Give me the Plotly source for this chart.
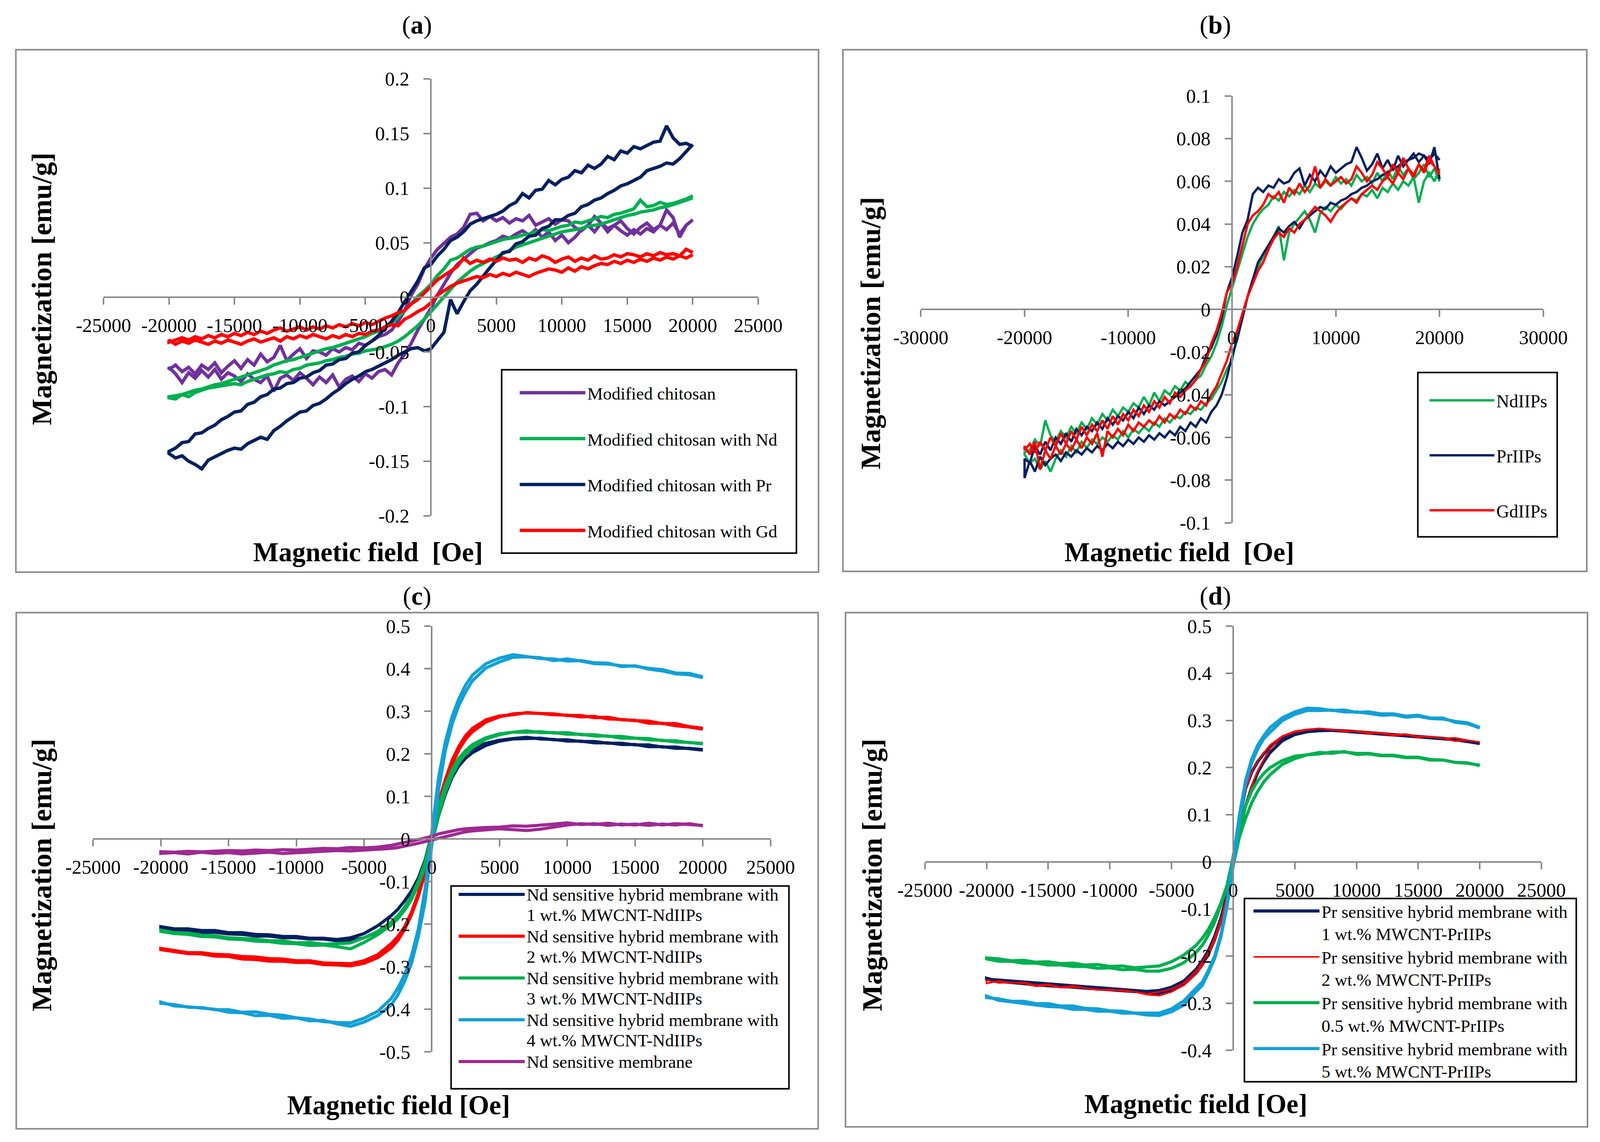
"""Magnetization loops of chitosan sorbents, IIPs and hybrid membranes (4 panels)."""

import plotly.graph_objects as go

W, H = 4255, 2924          # reference canvas, used to turn pixel positions into paper fractions
FONT = "Liberation Serif"
GREY = "#8a8a8a"

PURPLE = "#7030A0"
GREEN = "#00B050"
NAVY = "#002060"
RED = "#FF0000"
BLUE = "#12A0D7"
MAGENTA = "#9E2A92"

# field sweeps (Oe), written from +20000 down to -20000
FIELD_FINE = [
    20000, 19500, 19000, 18500, 18000, 17500, 17000, 16500, 16000, 15500,
    15000, 14500, 14000, 13500, 13000, 12500, 12000, 11500, 11000, 10500,
    10000, 9500, 9000, 8500, 8000, 7500, 7000, 6500, 6000, 5500,
    5000, 4500, 4000, 3500, 3000, 2500, 2000, 1500, 1000, 500,
    0, -500, -1000, -1500, -2000, -2500, -3000, -3500, -4000, -4500,
    -5000, -5500, -6000, -6500, -7000, -7500, -8000, -8500, -9000, -9500,
    -10000, -10500, -11000, -11500, -12000, -12500, -13000, -13500, -14000, -14500,
    -15000, -15500, -16000, -16500, -17000, -17500, -18000, -18500, -19000, -19500,
    -20000,
]
FIELD_COARSE = [
    20000, 19000, 18000, 17000, 16000, 15000, 14000, 13000, 12000, 11000,
    10000, 9000, 8000, 7000, 6000, 5000, 4000, 3000,
    2500, 2000, 1500, 1000, 500, 0, -500, -1000, -1500, -2000, -2500,
    -3000, -4000, -5000, -6000, -7000, -8000, -9000, -10000,
    -11000, -12000, -13000, -14000, -15000, -16000, -17000, -18000, -19000, -20000,
]

# ---- (a) modified chitosan, emu/g; *_DOWN follows FIELD_FINE, *_UP runs -20000 -> +20000
A_CHIT_DOWN = [
    0.071, 0.066, 0.055, 0.073, 0.080, 0.066, 0.062, 0.068, 0.064, 0.058,
    0.063, 0.070, 0.066, 0.060, 0.068, 0.074, 0.066, 0.061, 0.064, 0.070,
    0.071, 0.067, 0.072, 0.069, 0.066, 0.075, 0.070, 0.072, 0.068, 0.073,
    0.070, 0.074, 0.070, 0.077, 0.076, 0.064, 0.058, 0.055, 0.049, 0.044,
    0.036, 0.026, 0.012, 0.002, -0.012, -0.022, -0.030, -0.034, -0.036, -0.040,
    -0.044, -0.042, -0.048, -0.046, -0.050, -0.047, -0.053, -0.050, -0.049, -0.056,
    -0.047, -0.052, -0.058, -0.044, -0.055, -0.059, -0.052, -0.062, -0.057, -0.065,
    -0.058, -0.063, -0.069, -0.060, -0.066, -0.062, -0.070, -0.064, -0.068, -0.062,
    -0.066,
]
A_CHIT_UP = [
    -0.064, -0.070, -0.078, -0.069, -0.074, -0.067, -0.073, -0.066, -0.075, -0.069,
    -0.072, -0.077, -0.070, -0.075, -0.078, -0.072, -0.086, -0.074, -0.071, -0.076,
    -0.069, -0.074, -0.080, -0.073, -0.078, -0.071, -0.082, -0.075, -0.072, -0.077,
    -0.070, -0.074, -0.068, -0.066, -0.071, -0.060, -0.052, -0.042, -0.030, -0.020,
    -0.010, 0.002, 0.012, 0.022, 0.030, 0.035, 0.040, 0.045, 0.047, 0.050,
    0.052, 0.056, 0.054, 0.058, 0.061, 0.057, 0.062, 0.055, 0.060, 0.052,
    0.057, 0.050, 0.055, 0.062, 0.066, 0.060, 0.068, 0.063, 0.066, 0.061,
    0.057, 0.062, 0.058, 0.063, 0.060, 0.066, 0.062, 0.068, 0.058, 0.066,
    0.071,
]
A_ND_DOWN = [
    0.093, 0.090, 0.088, 0.086, 0.085, 0.087, 0.084, 0.083, 0.089, 0.081,
    0.079, 0.077, 0.076, 0.073, 0.074, 0.072, 0.070, 0.068, 0.069, 0.066,
    0.065, 0.063, 0.061, 0.062, 0.060, 0.058, 0.057, 0.055, 0.054, 0.053,
    0.051, 0.049, 0.047, 0.046, 0.044, 0.040, 0.036, 0.034, 0.026, 0.020,
    0.012, 0.006, 0.001, -0.006, -0.012, -0.019, -0.024, -0.028, -0.031, -0.033,
    -0.036, -0.038, -0.040, -0.042, -0.044, -0.046, -0.047, -0.049, -0.051, -0.053,
    -0.055, -0.057, -0.058, -0.060, -0.062, -0.065, -0.067, -0.069, -0.071, -0.073,
    -0.075, -0.077, -0.079, -0.080, -0.082, -0.084, -0.085, -0.087, -0.089, -0.090,
    -0.091,
]
A_ND_UP = [
    -0.092, -0.093, -0.089, -0.091, -0.087, -0.085, -0.083, -0.082, -0.081, -0.080,
    -0.079, -0.080, -0.077, -0.075, -0.073, -0.071, -0.070, -0.068, -0.069, -0.066,
    -0.065, -0.062, -0.061, -0.060, -0.058, -0.057, -0.055, -0.054, -0.052, -0.051,
    -0.049, -0.048, -0.047, -0.045, -0.043, -0.040, -0.036, -0.031, -0.026, -0.020,
    -0.013, -0.006, 0.000, 0.008, 0.014, 0.019, 0.024, 0.028, 0.031, 0.034,
    0.037, 0.040, 0.043, 0.046, 0.048, 0.050, 0.052, 0.054, 0.056, 0.058,
    0.060, 0.061, 0.062, 0.063, 0.065, 0.066, 0.067, 0.069, 0.071, 0.073,
    0.075, 0.076, 0.078, 0.079, 0.080, 0.082, 0.083, 0.085, 0.087, 0.089,
    0.091,
]
A_PR_DOWN = [
    0.138, 0.141, 0.140, 0.146, 0.157, 0.143, 0.142, 0.139, 0.136, 0.138,
    0.132, 0.134, 0.126, 0.129, 0.122, 0.118, 0.121, 0.114, 0.116, 0.110,
    0.108, 0.103, 0.107, 0.099, 0.098, 0.091, 0.095, 0.087, 0.084, 0.079,
    0.076, 0.074, 0.072, 0.070, 0.067, 0.060, 0.055, 0.052, 0.044, 0.038,
    0.030, 0.027, 0.015, 0.006, -0.004, -0.014, -0.022, -0.028, -0.035, -0.040,
    -0.044, -0.050, -0.051, -0.056, -0.057, -0.061, -0.062, -0.067, -0.069, -0.073,
    -0.074, -0.078, -0.079, -0.083, -0.084, -0.089, -0.091, -0.096, -0.098, -0.104,
    -0.105, -0.109, -0.112, -0.117, -0.120, -0.124, -0.125, -0.132, -0.133, -0.138,
    -0.141,
]
A_PR_UP = [
    -0.143, -0.147, -0.145, -0.150, -0.153, -0.157, -0.149, -0.146, -0.143, -0.140,
    -0.138, -0.139, -0.134, -0.131, -0.128, -0.130, -0.122, -0.118, -0.113, -0.109,
    -0.105, -0.104, -0.099, -0.097, -0.093, -0.088, -0.084, -0.079, -0.075, -0.072,
    -0.068, -0.066, -0.063, -0.060, -0.057, -0.053, -0.050, -0.047, -0.046, -0.049,
    -0.047, -0.040, -0.032, -0.002, -0.015, -0.004, 0.006, 0.012, 0.020, 0.027,
    0.034, 0.041, 0.042, 0.049, 0.051, 0.056, 0.057, 0.063, 0.065, 0.071,
    0.071, 0.075, 0.077, 0.083, 0.085, 0.089, 0.091, 0.095, 0.098, 0.102,
    0.104, 0.107, 0.110, 0.116, 0.118, 0.120, 0.123, 0.122, 0.127, 0.134,
    0.140,
]
A_GD_DOWN = [
    0.041, 0.044, 0.038, 0.040, 0.039, 0.041, 0.038, 0.040, 0.037, 0.039,
    0.040, 0.037, 0.039, 0.036, 0.035, 0.038, 0.034, 0.036, 0.033, 0.037,
    0.035, 0.032, 0.036, 0.038, 0.034, 0.036, 0.032, 0.035, 0.034, 0.036,
    0.033, 0.035, 0.032, 0.034, 0.031, 0.036, 0.028, 0.024, 0.020, 0.016,
    0.010, 0.004, -0.002, -0.006, -0.012, -0.014, -0.017, -0.019, -0.022, -0.025,
    -0.023, -0.026, -0.024, -0.027, -0.025, -0.028, -0.026, -0.029, -0.027, -0.030,
    -0.027, -0.029, -0.031, -0.028, -0.030, -0.033, -0.031, -0.034, -0.032, -0.035,
    -0.033, -0.036, -0.034, -0.037, -0.035, -0.038, -0.036, -0.039, -0.037, -0.039,
    -0.041,
]
A_GD_UP = [
    -0.039, -0.043, -0.040, -0.042, -0.039, -0.041, -0.043, -0.040, -0.042, -0.039,
    -0.041, -0.043, -0.040, -0.038, -0.041, -0.039, -0.037, -0.040, -0.036, -0.038,
    -0.035, -0.037, -0.034, -0.036, -0.038, -0.035, -0.037, -0.034, -0.036, -0.033,
    -0.034, -0.031, -0.030, -0.027, -0.025, -0.026, -0.020, -0.017, -0.013, -0.010,
    -0.005, 0.002, 0.006, 0.010, 0.013, 0.015, 0.017, 0.019, 0.018, 0.021,
    0.019, 0.022, 0.020, 0.023, 0.021, 0.019, 0.022, 0.024, 0.026, 0.025,
    0.023, 0.027, 0.024, 0.028, 0.026, 0.029, 0.031, 0.030, 0.033, 0.031,
    0.034, 0.032, 0.035, 0.033, 0.036, 0.034, 0.037, 0.035, 0.038, 0.036,
    0.039,
]

# ---- (b) ion imprinted polymers
B_ND_DOWN = [
    0.060, 0.066, 0.062, 0.068, 0.064, 0.061, 0.066, 0.063, 0.067, 0.061,
    0.065, 0.060, 0.064, 0.059, 0.062, 0.060, 0.063, 0.058, 0.061, 0.059,
    0.062, 0.058, 0.060, 0.057, 0.059, 0.055, 0.058, 0.054, 0.056, 0.053,
    0.055, 0.051, 0.053, 0.049, 0.047, 0.044, 0.040, 0.034, 0.026, 0.018,
    0.010, 0.002, -0.008, -0.016, -0.022, -0.026, -0.031, -0.033, -0.036, -0.034,
    -0.038, -0.036, -0.040, -0.038, -0.043, -0.039, -0.045, -0.041, -0.046, -0.044,
    -0.048, -0.046, -0.050, -0.047, -0.052, -0.049, -0.054, -0.051, -0.056, -0.053,
    -0.058, -0.055, -0.060, -0.057, -0.062, -0.059, -0.052, -0.064, -0.061, -0.066,
    -0.067,
]
B_ND_UP = [
    -0.068, -0.072, -0.070, -0.075, -0.071, -0.076, -0.070, -0.066, -0.069, -0.064,
    -0.067, -0.062, -0.065, -0.061, -0.063, -0.060, -0.062, -0.059, -0.061, -0.057,
    -0.060, -0.056, -0.058, -0.055, -0.057, -0.053, -0.055, -0.051, -0.053, -0.050,
    -0.051, -0.048, -0.049, -0.046, -0.047, -0.044, -0.042, -0.038, -0.034, -0.028,
    -0.024, -0.012, -0.004, 0.006, 0.014, 0.020, 0.025, 0.028, 0.034, 0.039,
    0.023, 0.036, 0.040, 0.043, 0.046, 0.042, 0.036, 0.045, 0.048, 0.046,
    0.049, 0.047, 0.050, 0.052, 0.051, 0.054, 0.053, 0.056, 0.052, 0.057,
    0.055, 0.059, 0.056, 0.060, 0.058, 0.062, 0.050, 0.060, 0.064, 0.060,
    0.066,
]
B_PR_DOWN = [
    0.061, 0.076, 0.068, 0.072, 0.069, 0.073, 0.070, 0.067, 0.072, 0.065,
    0.070, 0.066, 0.073, 0.068, 0.065, 0.071, 0.076, 0.069, 0.068, 0.066,
    0.064, 0.067, 0.062, 0.065, 0.060, 0.063, 0.058, 0.066, 0.064, 0.060,
    0.059, 0.061, 0.057, 0.058, 0.055, 0.057, 0.054, 0.042, 0.036, 0.025,
    0.015, 0.008, -0.004, -0.012, -0.018, -0.022, -0.028, -0.031, -0.034, -0.037,
    -0.039, -0.041, -0.043, -0.045, -0.043, -0.047, -0.045, -0.049, -0.046, -0.051,
    -0.048, -0.052, -0.050, -0.054, -0.051, -0.056, -0.053, -0.057, -0.055, -0.059,
    -0.056, -0.062, -0.058, -0.063, -0.060, -0.066, -0.062, -0.068, -0.064, -0.072,
    -0.070,
]
B_PR_UP = [
    -0.079, -0.071, -0.076, -0.069, -0.073, -0.070, -0.068, -0.071, -0.067, -0.069,
    -0.066, -0.068, -0.065, -0.067, -0.064, -0.066, -0.063, -0.065, -0.062, -0.064,
    -0.061, -0.063, -0.060, -0.062, -0.059, -0.061, -0.058, -0.060, -0.057, -0.059,
    -0.055, -0.057, -0.053, -0.055, -0.051, -0.053, -0.048, -0.045, -0.040, -0.032,
    -0.022, -0.014, -0.004, 0.006, 0.014, 0.022, 0.026, 0.030, 0.034, 0.038,
    0.036, 0.039, 0.041, 0.038, 0.042, 0.044, 0.046, 0.048, 0.047, 0.050,
    0.049, 0.051, 0.052, 0.054, 0.055, 0.057, 0.058, 0.060, 0.061, 0.063,
    0.064, 0.066, 0.067, 0.069, 0.070, 0.071, 0.073, 0.072, 0.070, 0.073,
    0.070,
]
B_GD_DOWN = [
    0.063, 0.067, 0.070, 0.064, 0.068, 0.062, 0.066, 0.071, 0.064, 0.068,
    0.062, 0.066, 0.069, 0.063, 0.060, 0.064, 0.067, 0.061, 0.059, 0.062,
    0.060, 0.058, 0.061, 0.057, 0.067, 0.058, 0.055, 0.059, 0.054, 0.057,
    0.050, 0.055, 0.052, 0.054, 0.049, 0.046, 0.044, 0.040, 0.030, 0.020,
    0.012, 0.008, -0.002, -0.010, -0.016, -0.024, -0.028, -0.033, -0.036, -0.038,
    -0.041, -0.039, -0.044, -0.041, -0.046, -0.043, -0.048, -0.045, -0.050, -0.047,
    -0.052, -0.049, -0.054, -0.050, -0.056, -0.052, -0.057, -0.054, -0.059, -0.055,
    -0.061, -0.057, -0.063, -0.058, -0.064, -0.060, -0.066, -0.062, -0.067, -0.063,
    -0.066,
]
B_GD_UP = [
    -0.064, -0.068, -0.062, -0.075, -0.066, -0.070, -0.064, -0.068, -0.063, -0.066,
    -0.061, -0.065, -0.060, -0.063, -0.058, -0.069, -0.057, -0.060, -0.056, -0.059,
    -0.054, -0.057, -0.053, -0.055, -0.052, -0.054, -0.050, -0.053, -0.049, -0.051,
    -0.047, -0.049, -0.045, -0.047, -0.043, -0.045, -0.040, -0.036, -0.030, -0.024,
    -0.016, -0.010, -0.002, 0.006, 0.012, 0.018, 0.022, 0.028, 0.033, 0.036,
    0.034, 0.038, 0.036, 0.040, 0.042, 0.045, 0.048, 0.046, 0.044, 0.041,
    0.045, 0.048, 0.050, 0.052, 0.050, 0.054, 0.056, 0.058, 0.056, 0.060,
    0.062, 0.059, 0.064, 0.061, 0.066, 0.063, 0.068, 0.065, 0.072, 0.067,
    0.064,
]

# ---- (c) Nd sensitive membranes; *_DOWN follows FIELD_COARSE
C_1WT_DOWN = [
    0.210, 0.213, 0.213, 0.217, 0.217, 0.222, 0.222, 0.226, 0.226, 0.230,
    0.230, 0.234, 0.235, 0.239, 0.236, 0.232, 0.225, 0.212,
    0.201, 0.185, 0.160, 0.123, 0.075, 0.010, -0.050, -0.092, -0.122, -0.145, -0.165,
    -0.180, -0.204, -0.222, -0.232, -0.236, -0.233, -0.233, -0.229,
    -0.229, -0.225, -0.224, -0.220, -0.220, -0.215, -0.215, -0.211, -0.211, -0.206,
]
C_1WT_UP = [
    -0.208, -0.213, -0.214, -0.219, -0.219, -0.223, -0.224, -0.228, -0.228, -0.232,
    -0.232, -0.235, -0.235, -0.239, -0.238, -0.232, -0.218, -0.196,
    -0.180, -0.160, -0.135, -0.102, -0.060, -0.010, 0.055, 0.105, 0.145, 0.172, 0.190,
    0.203, 0.220, 0.230, 0.235, 0.236, 0.237, 0.233, 0.233,
    0.229, 0.229, 0.225, 0.225, 0.221, 0.221, 0.216, 0.216, 0.212, 0.209,
]
C_2WT_DOWN = [
    0.258, 0.263, 0.266, 0.272, 0.272, 0.279, 0.280, 0.286, 0.285, 0.290,
    0.290, 0.294, 0.295, 0.297, 0.292, 0.289, 0.280, 0.260,
    0.243, 0.218, 0.185, 0.140, 0.085, 0.010, -0.068, -0.128, -0.172, -0.206, -0.229,
    -0.246, -0.272, -0.286, -0.293, -0.292, -0.291, -0.286, -0.286,
    -0.282, -0.281, -0.277, -0.276, -0.272, -0.271, -0.267, -0.267, -0.262, -0.257,
]
C_2WT_UP = [
    -0.260, -0.265, -0.269, -0.270, -0.275, -0.276, -0.282, -0.283, -0.287, -0.287,
    -0.290, -0.290, -0.295, -0.296, -0.298, -0.292, -0.279, -0.256,
    -0.238, -0.212, -0.178, -0.135, -0.080, -0.010, 0.068, 0.128, 0.175, 0.210, 0.235,
    0.252, 0.275, 0.287, 0.294, 0.296, 0.295, 0.292, 0.291,
    0.287, 0.288, 0.282, 0.281, 0.278, 0.277, 0.271, 0.271, 0.264, 0.260,
]
C_3WT_DOWN = [
    0.223, 0.227, 0.228, 0.232, 0.233, 0.237, 0.237, 0.242, 0.242, 0.246,
    0.246, 0.250, 0.250, 0.254, 0.251, 0.247, 0.238, 0.222,
    0.208, 0.190, 0.163, 0.125, 0.075, 0.010, -0.055, -0.100, -0.135, -0.160, -0.180,
    -0.195, -0.217, -0.232, -0.244, -0.246, -0.247, -0.243, -0.244,
    -0.239, -0.239, -0.235, -0.234, -0.232, -0.227, -0.226, -0.221, -0.220, -0.214,
]
C_3WT_UP = [
    -0.217, -0.222, -0.224, -0.229, -0.230, -0.235, -0.236, -0.240, -0.241, -0.245,
    -0.246, -0.250, -0.249, -0.253, -0.258, -0.243, -0.225, -0.202,
    -0.187, -0.167, -0.142, -0.108, -0.065, -0.010, 0.058, 0.110, 0.150, 0.180, 0.200,
    0.215, 0.235, 0.245, 0.251, 0.251, 0.252, 0.249, 0.250,
    0.245, 0.245, 0.241, 0.241, 0.237, 0.236, 0.231, 0.231, 0.226, 0.225,
]
C_4WT_DOWN = [
    0.379, 0.386, 0.388, 0.395, 0.399, 0.407, 0.405, 0.413, 0.414, 0.419,
    0.418, 0.423, 0.424, 0.429, 0.433, 0.425, 0.412, 0.385,
    0.362, 0.330, 0.288, 0.228, 0.145, 0.015, -0.118, -0.212, -0.275, -0.318, -0.350,
    -0.375, -0.405, -0.421, -0.432, -0.431, -0.429, -0.423, -0.420,
    -0.414, -0.412, -0.406, -0.407, -0.401, -0.401, -0.396, -0.395, -0.389, -0.386,
]
C_4WT_UP = [
    -0.383, -0.392, -0.394, -0.397, -0.400, -0.407, -0.408, -0.415, -0.414, -0.421,
    -0.420, -0.427, -0.426, -0.434, -0.440, -0.430, -0.415, -0.390,
    -0.366, -0.334, -0.292, -0.230, -0.148, -0.015, 0.115, 0.208, 0.270, 0.314, 0.346,
    0.372, 0.402, 0.416, 0.427, 0.428, 0.426, 0.419, 0.423,
    0.418, 0.412, 0.411, 0.407, 0.406, 0.401, 0.398, 0.390, 0.389, 0.381,
]
C_MEMB_DOWN = [
    0.032, 0.034, 0.036, 0.033, 0.037, 0.033, 0.035, 0.032, 0.036, 0.034,
    0.038, 0.035, 0.032, 0.030, 0.031, 0.028, 0.027, 0.026,
    0.024, 0.022, 0.019, 0.015, 0.012, 0.006, 0.002, -0.002, -0.005, -0.008, -0.012,
    -0.015, -0.019, -0.021, -0.020, -0.023, -0.022, -0.024, -0.026,
    -0.025, -0.027, -0.026, -0.028, -0.027, -0.029, -0.030, -0.029, -0.031, -0.030,
]
C_MEMB_UP = [
    -0.034, -0.032, -0.035, -0.031, -0.034, -0.032, -0.035, -0.033, -0.031, -0.034,
    -0.032, -0.030, -0.029, -0.027, -0.028, -0.026, -0.025, -0.022,
    -0.020, -0.017, -0.014, -0.010, -0.006, -0.002, 0.002, 0.006, 0.010, 0.014, 0.017,
    0.019, 0.022, 0.024, 0.022, 0.020, 0.023, 0.028, 0.033,
    0.036, 0.034, 0.037, 0.033, 0.035, 0.032, 0.035, 0.033, 0.036, 0.031,
]

# ---- (d) Pr sensitive membranes
D_1WT_DOWN = [
    0.252, 0.256, 0.259, 0.262, 0.264, 0.266, 0.268, 0.270, 0.273, 0.274,
    0.276, 0.278, 0.279, 0.280, 0.278, 0.273, 0.263, 0.244,
    0.230, 0.213, 0.190, 0.155, 0.090, 0.008, -0.070, -0.120, -0.158, -0.188, -0.210,
    -0.228, -0.253, -0.266, -0.273, -0.275, -0.273, -0.271, -0.269,
    -0.267, -0.265, -0.263, -0.262, -0.260, -0.258, -0.256, -0.254, -0.252, -0.249,
]
D_1WT_UP = [
    -0.247, -0.254, -0.256, -0.259, -0.261, -0.263, -0.264, -0.266, -0.268, -0.270,
    -0.271, -0.273, -0.275, -0.277, -0.279, -0.272, -0.260, -0.236,
    -0.218, -0.195, -0.165, -0.125, -0.075, -0.008, 0.065, 0.118, 0.158, 0.190, 0.213,
    0.232, 0.257, 0.270, 0.276, 0.278, 0.279, 0.277, 0.275,
    0.273, 0.272, 0.270, 0.268, 0.265, 0.263, 0.261, 0.259, 0.255, 0.251,
]
D_2WT_DOWN = [
    0.254, 0.258, 0.256, 0.262, 0.266, 0.264, 0.270, 0.268, 0.272, 0.275,
    0.277, 0.276, 0.281, 0.283, 0.281, 0.277, 0.267, 0.248,
    0.232, 0.214, 0.190, 0.152, 0.088, 0.006, -0.072, -0.122, -0.160, -0.192, -0.213,
    -0.232, -0.257, -0.270, -0.276, -0.280, -0.276, -0.274, -0.271,
    -0.272, -0.268, -0.266, -0.267, -0.262, -0.264, -0.258, -0.256, -0.257, -0.251,
]
D_2WT_UP = [
    -0.258, -0.253, -0.257, -0.256, -0.262, -0.260, -0.266, -0.263, -0.268, -0.271,
    -0.273, -0.272, -0.276, -0.282, -0.284, -0.276, -0.262, -0.238,
    -0.219, -0.197, -0.167, -0.128, -0.077, -0.010, 0.066, 0.120, 0.160, 0.194, 0.218,
    0.240, 0.266, 0.275, 0.280, 0.283, 0.280, 0.279, 0.276,
    0.272, 0.274, 0.270, 0.271, 0.266, 0.265, 0.262, 0.263, 0.258, 0.254,
]
D_05WT_DOWN = [
    0.205, 0.209, 0.211, 0.216, 0.216, 0.221, 0.221, 0.225, 0.225, 0.229,
    0.228, 0.234, 0.230, 0.232, 0.227, 0.224, 0.215, 0.200,
    0.188, 0.172, 0.150, 0.118, 0.070, 0.008, -0.050, -0.088, -0.118, -0.143, -0.162,
    -0.177, -0.198, -0.212, -0.221, -0.223, -0.225, -0.221, -0.222,
    -0.218, -0.219, -0.215, -0.216, -0.212, -0.213, -0.209, -0.210, -0.206, -0.204,
]
D_05WT_UP = [
    -0.206, -0.211, -0.211, -0.215, -0.215, -0.219, -0.219, -0.222, -0.222, -0.226,
    -0.225, -0.229, -0.228, -0.232, -0.232, -0.226, -0.214, -0.192,
    -0.177, -0.155, -0.128, -0.092, -0.055, -0.008, 0.052, 0.092, 0.125, 0.150, 0.170,
    0.185, 0.207, 0.219, 0.227, 0.229, 0.233, 0.233, 0.230,
    0.230, 0.226, 0.226, 0.222, 0.222, 0.217, 0.216, 0.211, 0.210, 0.204,
]
D_5WT_DOWN = [
    0.284, 0.293, 0.296, 0.305, 0.305, 0.311, 0.309, 0.314, 0.314, 0.318,
    0.317, 0.322, 0.321, 0.325, 0.326, 0.318, 0.306, 0.285,
    0.268, 0.248, 0.218, 0.172, 0.098, 0.008, -0.088, -0.155, -0.200, -0.230, -0.255,
    -0.268, -0.295, -0.312, -0.321, -0.321, -0.321, -0.317, -0.316,
    -0.312, -0.311, -0.306, -0.306, -0.301, -0.301, -0.296, -0.296, -0.291, -0.288,
]
D_5WT_UP = [
    -0.285, -0.294, -0.297, -0.301, -0.304, -0.307, -0.308, -0.313, -0.313, -0.317,
    -0.317, -0.321, -0.321, -0.325, -0.326, -0.318, -0.304, -0.275,
    -0.262, -0.235, -0.205, -0.160, -0.095, -0.008, 0.090, 0.165, 0.210, 0.240, 0.262,
    0.275, 0.300, 0.313, 0.321, 0.321, 0.322, 0.318, 0.318,
    0.315, 0.311, 0.312, 0.307, 0.309, 0.304, 0.303, 0.298, 0.295, 0.285,
]

# tick values / labels
X_TICKS_25 = [-25000, -20000, -15000, -10000, -5000, 0, 5000, 10000, 15000, 20000, 25000]
X_TEXT_25 = ["-25000", "-20000", "-15000", "-10000", "-5000", "0",
             "5000", "10000", "15000", "20000", "25000"]
X_TICKS_30 = [-30000, -20000, -10000, 0, 10000, 20000, 30000]
X_TEXT_30 = ["-30000", "-20000", "-10000", "0", "10000", "20000", "30000"]
Y_TICKS_A = [-0.2, -0.15, -0.1, -0.05, 0, 0.05, 0.1, 0.15, 0.2]
Y_TEXT_A = ["-0.2", "-0.15", "-0.1", "-0.05", "0", "0.05", "0.1", "0.15", "0.2"]
Y_TICKS_B = [-0.1, -0.08, -0.06, -0.04, -0.02, 0, 0.02, 0.04, 0.06, 0.08, 0.1]
Y_TEXT_B = ["-0.1", "-0.08", "-0.06", "-0.04", "-0.02", "0",
            "0.02", "0.04", "0.06", "0.08", "0.1"]
Y_TICKS_C = [-0.5, -0.4, -0.3, -0.2, -0.1, 0, 0.1, 0.2, 0.3, 0.4, 0.5]
Y_TEXT_C = ["-0.5", "-0.4", "-0.3", "-0.2", "-0.1", "0", "0.1", "0.2", "0.3", "0.4", "0.5"]
Y_TICKS_D = [-0.4, -0.3, -0.2, -0.1, 0, 0.1, 0.2, 0.3, 0.4, 0.5]
Y_TEXT_D = ["-0.4", "-0.3", "-0.2", "-0.1", "0", "0.1", "0.2", "0.3", "0.4", "0.5"]


def fx(px):
    return px / W


def fy(py):
    return 1 - py / H


def loop(field, down, up):
    assert len(field) == len(down) == len(up), (len(field), len(down), len(up))
    return list(field) + list(field[::-1]), list(down) + list(up)


def big(text, size=45):
    # legend text drawn larger than the legend's own line pitch (tighter line spacing)
    return "<br>".join('<span style="font-size:%dpx">%s</span>' % (size, part)
                       for part in text.split("<br>"))


def axis(dom, rng, pos, vals, text, standoff):
    return dict(
        domain=dom, range=rng, anchor="free", position=pos,
        showline=True, linecolor=GREY, linewidth=4,
        ticks="outside", ticklen=17, tickwidth=4, tickcolor=GREY,
        tickvals=vals, ticktext=text, tickangle=0, ticklabelstandoff=standoff,
        tickfont=dict(family=FONT, size=50, color="black"),
        showgrid=False, zeroline=False, automargin=False, fixedrange=True,
    )


fig = go.Figure()

SERIES = [
    # axis suffix, legend, name, colour, width, field, down sweep, up sweep
    ("", "legend", "Modified chitosan", PURPLE, 8.5, FIELD_FINE, A_CHIT_DOWN, A_CHIT_UP),
    ("", "legend", "Modified chitosan with Nd", GREEN, 8.5, FIELD_FINE, A_ND_DOWN, A_ND_UP),
    ("", "legend", "Modified chitosan with Pr", NAVY, 8.5, FIELD_FINE, A_PR_DOWN, A_PR_UP),
    ("", "legend", "Modified chitosan with Gd", RED, 8.5, FIELD_FINE, A_GD_DOWN, A_GD_UP),
    ("2", "legend2", "NdIIPs", GREEN, 6, FIELD_FINE, B_ND_DOWN, B_ND_UP),
    ("2", "legend2", "PrIIPs", NAVY, 6, FIELD_FINE, B_PR_DOWN, B_PR_UP),
    ("2", "legend2", "GdIIPs", RED, 6, FIELD_FINE, B_GD_DOWN, B_GD_UP),
    ("3", "legend3", big("Nd sensitive hybrid membrane with<br>1 wt.% MWCNT-NdIIPs"),
     NAVY, 8, FIELD_COARSE, C_1WT_DOWN, C_1WT_UP),
    ("3", "legend3", big("Nd sensitive hybrid membrane with<br>2 wt.% MWCNT-NdIIPs"),
     RED, 8, FIELD_COARSE, C_2WT_DOWN, C_2WT_UP),
    ("3", "legend3", big("Nd sensitive hybrid membrane with<br>3 wt.% MWCNT-NdIIPs"),
     GREEN, 8, FIELD_COARSE, C_3WT_DOWN, C_3WT_UP),
    ("3", "legend3", big("Nd sensitive hybrid membrane with<br>4 wt.% MWCNT-NdIIPs"),
     BLUE, 8, FIELD_COARSE, C_4WT_DOWN, C_4WT_UP),
    ("3", "legend3", big("Nd sensitive membrane"), MAGENTA, 8, FIELD_COARSE, C_MEMB_DOWN, C_MEMB_UP),
    ("4", "legend4", big("Pr sensitive hybrid membrane with<br>1 wt.% MWCNT-PrIIPs"),
     NAVY, 8, FIELD_COARSE, D_1WT_DOWN, D_1WT_UP),
    ("4", "legend4", big("Pr sensitive hybrid membrane with<br>2 wt.% MWCNT-PrIIPs"),
     RED, 4, FIELD_COARSE, D_2WT_DOWN, D_2WT_UP),
    ("4", "legend4", big("Pr sensitive hybrid membrane with<br>0.5 wt.% MWCNT-PrIIPs"),
     GREEN, 8, FIELD_COARSE, D_05WT_DOWN, D_05WT_UP),
    ("4", "legend4", big("Pr sensitive hybrid membrane with<br>5 wt.% MWCNT-PrIIPs"),
     BLUE, 8, FIELD_COARSE, D_5WT_DOWN, D_5WT_UP),
]

for k, leg, name, colour, width, field, down, up in SERIES:
    xs, ys = loop(field, down, up)
    fig.add_trace(go.Scatter(
        x=xs, y=ys, mode="lines", name=name, legend=leg, legendgroup=name,
        line=dict(color=colour, width=width),
        xaxis="x" + k, yaxis="y" + k, hoverinfo="skip",
    ))

# plot areas in reference pixels: (x0, x1, ytop, ybottom)
PA = (268, 2016, 195, 1320)
PB = (2450, 4112, 239, 1338)
PC = (240, 2049, 1604, 2700)
PD = (2461, 4107, 1604, 2696)

layout_axes = {}
for key, p, xr, yr, xt, xtt, yt, ytt in [
    ("", PA, [-25000, 25000], [-0.2, 0.2], X_TICKS_25, X_TEXT_25, Y_TICKS_A, Y_TEXT_A),
    ("2", PB, [-30000, 30000], [-0.1, 0.1], X_TICKS_30, X_TEXT_30, Y_TICKS_B, Y_TEXT_B),
    ("3", PC, [-25000, 25000], [-0.5, 0.5], X_TICKS_25, X_TEXT_25, Y_TICKS_C, Y_TEXT_C),
    ("4", PD, [-25000, 25000], [-0.4, 0.5], X_TICKS_25, X_TEXT_25, Y_TICKS_D, Y_TEXT_D),
]:
    xd = [fx(p[0]), fx(p[1])]
    yd = [fy(p[3]), fy(p[2])]
    y_zero = yd[0] + (yd[1] - yd[0]) * (0 - yr[0]) / (yr[1] - yr[0])
    x_zero = xd[0] + (xd[1] - xd[0]) * (0 - xr[0]) / (xr[1] - xr[0])
    layout_axes["xaxis" + key] = axis(xd, xr, y_zero, xt, xtt, 10)
    layout_axes["yaxis" + key] = axis(yd, yr, x_zero, yt, ytt, 26)


def legend_at(px, py, size, itemwidth, gap):
    return dict(
        x=fx(px), y=fy(py), xanchor="left", yanchor="top",
        bgcolor="rgba(0,0,0,0)", borderwidth=0,
        font=dict(family=FONT, size=size, color="black"),
        itemwidth=itemwidth, tracegroupgap=gap, valign="top",
    )


shapes = []
# outer panel frames (grey) and legend frames (black), reference pixels
for x0, y0, x1, y1, colour in [
    (34, 120, 2177, 1465, GREY), (2242, 120, 4228, 1463, GREY),
    (35, 1569, 2176, 2898, GREY), (2249, 1569, 4230, 2893, GREY),
    (1331, 944, 2118, 1416, "black"), (3777, 951, 4149, 1374, "black"),
    (1196, 2273, 2098, 2795, "black"), (3314, 2305, 4200, 2777, "black"),
]:
    shapes.append(dict(type="rect", xref="paper", yref="paper",
                       x0=fx(x0), x1=fx(x1), y0=fy(y1), y1=fy(y0),
                       line=dict(color=colour, width=4), fillcolor="rgba(0,0,0,0)"))

annotations = []


def note(text, px, py, size, angle=0):
    annotations.append(dict(
        text=text, x=fx(px), y=fy(py), xref="paper", yref="paper",
        xanchor="center", yanchor="middle", showarrow=False, textangle=angle,
        font=dict(family=FONT, size=size, color="black"),
    ))


for letter, px, py in [("a", 1105, 56), ("b", 3237, 56), ("c", 1105, 1526), ("d", 3237, 1526)]:
    note("(<b>%s</b>)" % letter, px, py, 66)

YTITLE = "<b>Magnetization [emu/g]</b>"
note(YTITLE, 103, 736, 72, -90)
note(YTITLE, 2317, 850, 72, -90)
note(YTITLE, 103, 2245, 72, -90)
note(YTITLE, 2320, 2245, 72, -90)
note("<b>Magnetic field\u00a0 [Oe]</b>", 974, 1414, 69)
note("<b>Magnetic field\u00a0 [Oe]</b>", 3140, 1414, 69)
note("<b>Magnetic field [Oe]</b>", 1056, 2838, 69)
note("<b>Magnetic field [Oe]</b>", 3184, 2835, 69)

fig.update_layout(
    autosize=True,
    margin=dict(l=0, r=0, t=0, b=0, autoexpand=False),
    paper_bgcolor="white", plot_bgcolor="white",
    showlegend=True,
    legend=legend_at(1374, 967, 45, 168, 56),
    legend2=legend_at(3803, 986, 46, 166, 78),
    legend3=legend_at(1211, 2262, 40, 169, 0),
    legend4=legend_at(3333, 2302, 44, 169, 0),
    shapes=shapes, annotations=annotations,
    **layout_axes,
)

# fill the browser viewport (minus the default 8px body margin) so nothing is cropped
fig.write_html("out.html", default_width="calc(100vw - 16px)",
               default_height="calc(100vh - 16px)")
